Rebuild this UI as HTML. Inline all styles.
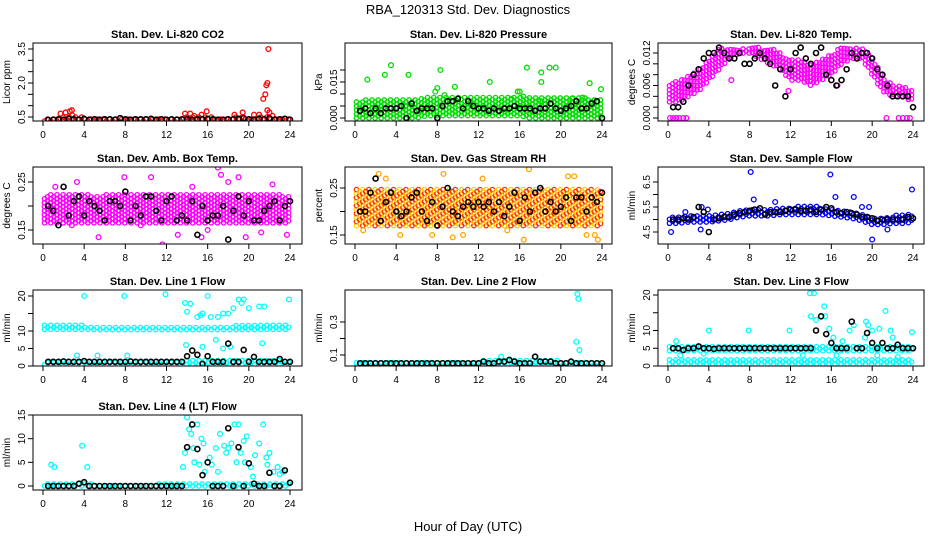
<!DOCTYPE html>
<html><head><meta charset="utf-8"><style>
html,body{margin:0;padding:0;background:#fff;}
svg{display:block;font-family:"Liberation Sans",sans-serif;}
</style></head><body>
<svg id="c" width="936" height="540" viewBox="0 0 936 540">
<text x="468" y="14" text-anchor="middle" font-size="13">RBA_120313  Std. Dev. Diagnostics</text>
<text x="468" y="531" text-anchor="middle" font-size="13">Hour of Day (UTC)</text>
</svg>
<script>
// ---- data ----
const hoursX = [0,4,8,12,16,20,24];
const p1Lo=[.32,.32,.32,.32,.32,.32,.32,.32,.32,.32,.32,.32,.32,.32,.32,.32,.32,.32,.32,.32,.32,.32,.32,.32,.32];
const p1Hi=[.42,.45,.55,.62,.45,.45,.45,.45,.45,.45,.45,.45,.45,.45,.5,.5,.52,.45,.48,.5,.48,.5,.5,.45,.45];
const p1OutX=[1.7,2.2,2.6,2.8,13.8,14.3,14.7,15.4,15.9,18.6,19.4,20.5,21.0,21.4,21.6,21.7,21.8,21.9,21.8,22.0,22.3];
const p1OutY=[.65,.7,.75,.8,.65,.65,.55,.6,.75,.6,.7,.6,.6,1.3,1.5,1.9,2.0,3.5,.8,.7,.55];
const p1Black=[.37,.38,.4,.38,.42,.4,.38,.42,.38,.4,.38,.4,.4,.38,.45,.4,.38,.4,.4,.4,.42,.38,.4,.38,.4,.38,.4,.4,.38,.4,.4,.42,.4,.38,.38,.4,.4,.42,.45,.4,.38,.42,.4,.45,.38,.4,.42,.38];

const p2Lo=[0,0,0,0,0,0,0,.001,.001,.001,.001,.001,.001,.001,.001,.001,.001,0,0,0,0,0,0,0,0];
const p2Hi=[.007,.008,.008,.008,.008,.008,.008,.009,.009,.009,.009,.009,.009,.009,.009,.009,.009,.009,.009,.009,.009,.009,.009,.008,.008];
const p2OutX=[1.2,2.9,3.5,5.2,7.8,8.0,8.3,8.7,9.7,13.1,15.2,15.8,16.0,16.7,18.1,18.1,18.0,18.9,19.5,21.1,22.1,22.8,23.9];
const p2OutY=[.016,.018,.022,.018,.011,.0125,.020,.0095,.013,.015,.008,.011,.011,.021,.019,.015,.007,.021,.021,.008,.0085,.0145,.012];
const p2Black=[.003,.004,.002,.004,.002,.004,.004,.004,.005,0,.006,.003,.004,.004,.004,0,.005,.007,.007,.008,.004,.007,.005,.004,.004,.003,.004,.003,.004,.004,.005,.004,.004,.004,.003,.004,.004,.006,.004,.003,.004,.005,.007,.004,.004,.006,.007,0];

const p3Lo=[.003,.003,.004,.005,.007,.009,.011,.012,.012,.011,.010,.009,.007,.007,.006,.007,.008,.010,.011,.011,.008,.005,.004,.004,.003];
const p3Hi=[.006,.007,.008,.009,.011,.013,.013,.013,.013,.013,.013,.012,.011,.011,.010,.011,.012,.013,.013,.013,.011,.008,.006,.006,.005];
const p3OutX=[.2,.5,.8,1.1,1.5,1.8,21.4,22.6,23.0,23.4,23.7,6.2,11.8,16.6];
const p3OutY=[0,0,0,0,0,0,0,0,0,0,0,.007,.005,.006];
const p3Black=[.002,.002,.003,.006,.008,.009,.011,.012,.012,.013,.012,.011,.011,.012,.010,.010,.011,.012,.011,.010,.006,.009,.004,.009,.012,.013,.011,.010,.012,.013,.008,.007,.006,.007,.009,.012,.011,.012,.012,.011,.009,.008,.006,.004,.004,.004,.004,.002];

const p4Lo=[.165,.165,.165,.165,.165,.165,.165,.165,.165,.165,.165,.165,.165,.165,.165,.165,.165,.165,.165,.165,.165,.165,.165,.165,.165];
const p4Hi=[.22,.225,.225,.225,.225,.22,.225,.225,.225,.225,.225,.225,.225,.225,.225,.225,.225,.225,.225,.225,.225,.225,.225,.225,.22];
const p4OutX=[1.2,3.3,5.4,7.9,10.5,11.6,13.1,15.4,16.0,17.0,17.3,18.0,19.0,19.7,21.2,22.3,23.7,2.8,9.5,14.5];
const p4OutY=[.24,.25,.135,.26,.26,.12,.14,.135,.15,.28,.265,.25,.26,.135,.145,.245,.14,.16,.16,.24];
const p4Black=[.2,.19,.16,.24,.18,.21,.22,.18,.21,.2,.19,.17,.21,.21,.2,.23,.17,.2,.18,.22,.22,.19,.17,.21,.22,.17,.18,.17,.21,.14,.2,.17,.18,.18,.2,.13,.19,.22,.18,.21,.17,.17,.19,.2,.21,.17,.2,.21];

const p5Lo=[.17,.17,.17,.17,.17,.17,.17,.17,.17,.17,.17,.17,.17,.17,.17,.17,.17,.17,.17,.17,.17,.17,.17,.17,.17];
const p5Hi=[.25,.25,.25,.25,.25,.25,.25,.25,.25,.25,.25,.25,.25,.25,.25,.25,.25,.25,.25,.25,.25,.25,.25,.25,.25];
const p5OutX=[.8,2.3,4.4,7.5,8.6,9.5,10.5,16.4,16.9,20.7,21.3,22.5,23.3,23.6,3.0,12.4,14.8];
const p5OutY=[.16,.28,.15,.15,.28,.145,.15,.14,.29,.275,.275,.15,.15,.14,.27,.27,.16];
const p5Black=[.2,.2,.24,.27,.18,.22,.24,.2,.19,.2,.23,.24,.2,.18,.22,.17,.21,.25,.2,.19,.21,.22,.21,.22,.21,.22,.2,.22,.19,.21,.24,.18,.23,.2,.24,.25,.2,.22,.2,.21,.23,.18,.23,.23,.2,.23,.22,.24];

const p6Lo=[4.85,4.85,4.9,4.9,4.9,4.95,5.0,5.1,5.15,5.15,5.15,5.2,5.2,5.2,5.2,5.2,5.15,5.1,5.05,4.95,4.8,4.8,4.85,4.85,4.9];
const p6Hi=[5.15,5.15,5.2,5.2,5.2,5.25,5.3,5.4,5.45,5.45,5.45,5.5,5.5,5.55,5.55,5.5,5.45,5.4,5.35,5.25,5.1,5.1,5.15,5.2,5.2];
const p6OutX=[.3,3.2,3.3,8.1,8.4,10.5,15.9,16.4,18.2,19.0,19.7,20.0,21.5,23.9,1.7,3.9];
const p6OutY=[4.5,4.6,5.5,6.9,5.8,5.7,6.8,5.9,5.9,5.5,5.5,4.2,4.6,6.2,5.3,5.4];
const p6Black=[5.0,5.0,5.05,5.0,5.1,5.5,5.3,4.5,5.0,5.05,5.1,5.1,5.2,5.25,5.3,5.35,5.4,5.45,5.2,5.3,5.3,5.3,5.35,5.4,5.4,5.35,5.35,5.4,5.3,5.4,5.5,5.45,5.3,5.25,5.3,5.25,5.2,5.1,5.1,5.05,4.95,5.0,5.0,5.0,5.0,5.0,5.1,5.05];

const p7Lo=[10.5,10.5,10.5,10.5,10.5,10.4,10.4,10.4,10.4,10.4,10.4,10.4,10.4,10.4,10.4,10.4,10.4,10.4,10.4,10.4,10.4,10.4,10.5,10.5,10.5];
const p7Hi=[11.8,11.8,11.8,11.8,11.6,11.4,11.4,11.4,11.4,11.4,11.4,11.4,11.4,11.4,11.4,11.4,11.4,11.4,11.4,11.6,12.0,12.0,11.8,11.8,11.6];
const p7Lo2=[.4,.4,.4,.4,.4,.4,.4,.4,.4,.4,.4,.4,.4,.4,.4,.4,.4,.4,.4,.4,.4,.4,.4,.4,.4];
const p7Hi2=[1.4,1.4,1.4,1.4,1.4,1.4,1.4,1.4,1.4,1.4,1.4,1.4,1.4,1.4,1.6,1.6,1.6,1.6,1.6,1.6,1.6,1.6,1.6,1.6,1.4];
const p7OutX=[4.0,7.9,11.9,13.8,14.0,14.3,15.0,15.3,15.5,16.0,16.3,17.0,17.5,18.0,18.5,19.0,19.3,19.5,20.0,21.0,21.5,23.9,13.9,15.5,16.8,17.5,18.2,21.3,3.3,5.3,8.2];
const p7OutY=[20,20,20.5,18,15.5,17.8,14,14.5,15,20,14,14,15,15,16.5,19,18,19,16.5,17,17,19,6,5.5,7.5,5,5.5,6.5,3,3,3];
const p7Black=[1.2,1.2,1.2,1.3,1.2,1.2,1.2,1.4,1.2,1.2,1.2,1.2,1.2,1.2,1.2,1.2,1.3,1.2,1.2,1.2,1.2,1.2,1.2,1.2,1.2,1.2,1.2,2.8,4.4,3.2,.6,2.8,1.2,1.2,1.2,6.4,1.2,1.2,4.6,1.2,2.6,1.2,1.2,1.2,1.2,2.0,1.2,1.2];

const p8Lo=[.03,.03,.03,.03,.03,.03,.03,.03,.03,.03,.03,.03,.03,.03,.03,.03,.03,.03,.03,.03,.03,.03,.03,.03,.03];
const p8Hi=[.055,.055,.055,.055,.06,.06,.06,.06,.06,.06,.06,.06,.065,.07,.075,.075,.07,.07,.07,.07,.065,.065,.06,.06,.055];
const p8OutX=[21.5,21.6,21.7,21.8,14.2,17.5];
const p8OutY=[.18,.47,.44,.13,.09,.09];
const p8Black=[.05,.05,.05,.05,.05,.05,.05,.05,.05,.05,.05,.05,.05,.05,.05,.05,.05,.05,.05,.05,.05,.05,.05,.05,.06,.05,.05,.06,.06,.07,.06,.05,.05,.05,.09,.06,.06,.06,.05,.05,.05,.06,.05,.05,.05,.05,.05,.05];

const p9Lo=[4.3,4.3,4.3,4.3,4.3,4.3,4.3,4.3,4.3,4.3,4.3,4.3,4.3,4.3,4.3,4.3,4.3,4.3,4.3,4.3,4.3,4.3,4.3,4.3,4.3];
const p9Hi=[5.6,5.6,5.6,5.6,5.6,5.6,5.6,5.6,5.6,5.6,5.6,5.6,5.6,5.8,5.8,5.8,5.8,5.8,5.6,5.6,5.6,5.6,5.6,5.6,5.6];
const p9Lo2=[.6,.6,.6,.6,.6,.6,.6,.6,.6,.6,.6,.6,.6,.6,.6,.6,.6,.6,.6,.6,.6,.6,.6,.6,.6];
const p9Hi2=[1.8,1.8,1.8,1.8,1.8,1.8,1.8,1.8,1.8,1.8,1.8,1.8,1.8,1.8,1.8,1.8,1.8,1.8,1.8,1.8,1.8,1.8,1.8,1.8,1.8];
const p9OutX=[.8,4.0,7.9,11.9,13.9,14.0,14.3,14.5,15.3,15.4,15.8,16.2,17.1,17.8,18.2,19.4,19.6,20.0,20.7,21.3,21.8,22.0,23.9,1.2,3.5,13.2,16.5,19.3,20.5,22.5];
const p9OutY=[7,10,10,10,20.5,14,20.5,13,16.8,14,10.5,8,7,10,11.5,12.5,11.5,10,10.5,15.5,10,8,9.5,3,3.5,3,3,8,3,2.5];
const p9Black=[5,5,4.5,5,5,5.5,5,5,4.8,5,5,5,5,5,5,5,5,5,5,5,5,5,5,5,5,5,5,5,10,14,9,6.5,5,5,5,12.5,5,5,9.3,6.5,5,6.5,5,5,6,5,5,5];

const p10Lo=[0,0,0,0,0,0,0,0,0,0,0,0,0,0,0,0,0,0,0,0,0,0,0,0,0];
const p10Hi=[.4,.6,.7,.7,.6,.4,.4,.4,.4,.4,.4,.4,.5,.8,.8,.8,.8,.8,.8,.8,.8,.8,.7,.6,.4];
const p10OutX=[.8,1.1,3.8,4.3,13.6,13.8,14.0,14.2,14.4,14.7,15.0,15.2,15.4,15.7,16.0,16.4,16.8,17.2,17.6,18.0,18.3,18.6,19.0,19.2,19.5,19.8,20.2,20.6,21.0,21.4,21.7,22.0,22.4,22.8,23.3,13.8,14.6,15.6,16.2,17.0,17.8,18.8,19.6,20.4,21.8,23.0];
const p10OutY=[4.5,4,8.5,4,4,15.5,14.5,12,11,5,13,4.5,10,3,5,4.5,8,11,8.5,8,9,13,13,7,9.5,10.5,4,6.5,9,13,6,7,3,4,3,7,8,9,6,3,7,5,5,2,4.5,2.5];
const p10Black=[0,0,0,0,0,0,.5,.8,0,0,0,0,0,0,0,0,0,0,0,0,0,0,0,0,0,0,0,8.2,13,7.8,2.3,5,0,0,0,12.2,0,8.2,0,4.8,.5,0,0,2.8,0,0,3.3,.7];

// ---- layout ----
const colBox=[[33,302,43,290],[345,612,355,602],[658,924,668,913]];
const rowBox=[[43,121],[167,244],[290,366],[415,490]];
const panels=[
 {name:'co2',title:'Stan. Dev. Li-820 CO2',yl:'Licor ppm',c:0,r:0,v:[3.5,49,0.5,117],ticks:[.5,1,1.5,2,2.5,3,3.5],labels:{'0.5':'0.5','2':'2.0','3.5':'3.5'},col:'#ff0000',lo:p1Lo,hi:p1Hi,ox:p1OutX,oy:p1OutY,bk:p1Black},
 {name:'pressure',title:'Stan. Dev. Li-820 Pressure',yl:'kPa',c:1,r:0,v:[0.015,82,0,118],ticks:[0,.005,.01,.015,.02],labels:{'0':'0.000','0.015':'0.015'},col:'#00dd00',lo:p2Lo,hi:p2Hi,ox:p2OutX,oy:p2OutY,bk:p2Black},
 {name:'temp',title:'Stan. Dev. Li-820 Temp.',yl:'degrees C',c:2,r:0,v:[0.012,53,0,118],ticks:[0,.002,.004,.006,.008,.01,.012],labels:{'0':'0.000','0.006':'0.006','0.012':'0.012'},col:'#ff00ff',lo:p3Lo,hi:p3Hi,ox:p3OutX,oy:p3OutY,bk:p3Black},
 {name:'amb-box-temp',title:'Stan. Dev. Amb. Box Temp.',yl:'degrees C',c:0,r:1,v:[0.25,182,0.15,230],ticks:[.15,.2,.25],labels:{'0.15':'0.15','0.25':'0.25'},col:'#ff00ff',lo:p4Lo,hi:p4Hi,ox:p4OutX,oy:p4OutY,bk:p4Black},
 {name:'gas-stream-rh',title:'Stan. Dev. Gas Stream RH',yl:'percent',c:1,r:1,v:[0.25,188,0.15,235],ticks:[.15,.2,.25],labels:{'0.15':'0.15','0.25':'0.25'},col:'#ffa500',alt:['#ffd000','#ff3000'],lo:p5Lo,hi:p5Hi,ox:p5OutX,oy:p5OutY,bk:p5Black},
 {name:'sample-flow',title:'Stan. Dev. Sample Flow',yl:'ml/min',c:2,r:1,v:[6.5,182,4.5,232],ticks:[4.5,5,5.5,6,6.5],labels:{'4.5':'4.5','5.5':'5.5','6.5':'6.5'},col:'#0000ff',lo:p6Lo,hi:p6Hi,ox:p6OutX,oy:p6OutY,bk:p6Black},
 {name:'line1-flow',title:'Stan. Dev. Line 1 Flow',yl:'ml/min',c:0,r:2,v:[20,296,0,366],ticks:[0,5,10,15,20],labels:{'0':'0','5':'5','10':'10','20':'20'},col:'#00ffff',lo:p7Lo,hi:p7Hi,lo2:p7Lo2,hi2:p7Hi2,ox:p7OutX,oy:p7OutY,bk:p7Black},
 {name:'line2-flow',title:'Stan. Dev. Line 2 Flow',yl:'ml/min',c:1,r:2,v:[0.3,322,0.1,355],ticks:[.1,.2,.3],labels:{'0.1':'0.1','0.3':'0.3'},col:'#00ffff',lo:p8Lo,hi:p8Hi,ox:p8OutX,oy:p8OutY,bk:p8Black},
 {name:'line3-flow',title:'Stan. Dev. Line 3 Flow',yl:'ml/min',c:2,r:2,v:[20,295,0,366],ticks:[0,5,10,15,20],labels:{'0':'0','5':'5','10':'10','20':'20'},col:'#00ffff',lo:p9Lo,hi:p9Hi,lo2:p9Lo2,hi2:p9Hi2,ox:p9OutX,oy:p9OutY,bk:p9Black},
 {name:'line4-flow',title:'Stan. Dev. Line 4 (LT) Flow',yl:'ml/min',c:0,r:3,v:[15,415,0,486],ticks:[0,5,10,15],labels:{'0':'0','5':'5','10':'10','15':'15'},col:'#00ffff',lo:p10Lo,hi:p10Hi,ox:p10OutX,oy:p10OutY,bk:p10Black}
];
const NS='http://www.w3.org/2000/svg';
const svg=document.getElementById('c');
function mk(tag,attrs,parent){const e=document.createElementNS(NS,tag);for(const k in attrs)e.setAttribute(k,attrs[k]);(parent||svg).appendChild(e);return e;}
function interp(arr,h){const i=Math.min(23,Math.floor(h));const f=h-i;return arr[i]*(1-f)+arr[i+1]*f;}

panels.forEach((p,pi)=>{
  const [L,R,X0,X24]=colBox[p.c];const [T,B]=rowBox[p.r];
  const xs=h=>X0+(X24-X0)*h/24;
  const ys=v=>p.v[3]+(v-p.v[2])*(p.v[1]-p.v[3])/(p.v[0]-p.v[2]);
  const g=mk('g',{});
  
  
  const cp=mk('clipPath',{id:'cp'+pi},g);mk('rect',{x:L,y:T,width:R-L,height:B-T},cp);
  const t=mk('text',{x:(L+R)/2,y:T-5,'text-anchor':'middle','font-size':'11','font-weight':'bold'},g);t.textContent=p.title;
  
  
  const yl=mk('text',{x:0,y:0,transform:`translate(${L-23},${(T+B)/2}) rotate(-90)`,'text-anchor':'middle','font-size':'10'},g);yl.textContent=p.yl;
  
  
  const pts=mk('g',{'clip-path':`url(#cp${pi})`,fill:'none','stroke-width':'1.3'},g);
  
  
  const bands=[[p.lo,p.hi]];if(p.lo2)bands.push([p.lo2,p.hi2]);
  let k=0;
  bands.forEach(([lo,hi])=>{
    let col_i=0;
    for(let h=0.15;h<=24;h+=0.3){
      const y1=ys(interp(lo,h)),y2=ys(interp(hi,h));
      const off=(col_i++%2)*2;
      for(let y=y1-off;y>=y2-0.1;y-=4){
        const col=p.alt?p.alt[(k++)%2]:p.col;
        const cc=mk('circle',{cx:xs(h).toFixed(1),cy:y.toFixed(1),r:2.2,stroke:col},pts);
        
        
      }
    }
  });
  p.ox.forEach((h,i)=>{
    const cc=mk('circle',{cx:xs(h),cy:ys(p.oy[i]),r:2.4,stroke:p.alt?'#ffa500':p.col},pts);
    
    
  });
  p.bk.forEach((v,i)=>{
    const cc=mk('circle',{cx:xs(0.5*(i+1)),cy:ys(v),r:2.5,stroke:'#000','stroke-width':'1.6'},pts);
    
    
  });
  const box=mk('rect',{x:L,y:T,width:R-L,height:B-T,fill:'none',stroke:'#000','stroke-width':'1'},g);
  
  
  hoursX.forEach(h=>{
    mk('line',{x1:xs(h),x2:xs(h),y1:B,y2:B+5,stroke:'#000'},g);
    const tx=mk('text',{x:xs(h),y:B+17,'text-anchor':'middle','font-size':'10'},g);tx.textContent=h;
    
    
  });
  p.ticks.forEach(v=>{
    const y=ys(v);mk('line',{x1:L-5,x2:L,y1:y,y2:y,stroke:'#000'},g);
    const key=String(+v.toFixed(4));
    if(p.labels[key]!==undefined){
      const ty=mk('text',{x:0,y:0,transform:`translate(${L-8},${y}) rotate(-90)`,'text-anchor':'middle','font-size':'10'},g);ty.textContent=p.labels[key];
      
      
    }
  });
});
</script>
</body></html>
